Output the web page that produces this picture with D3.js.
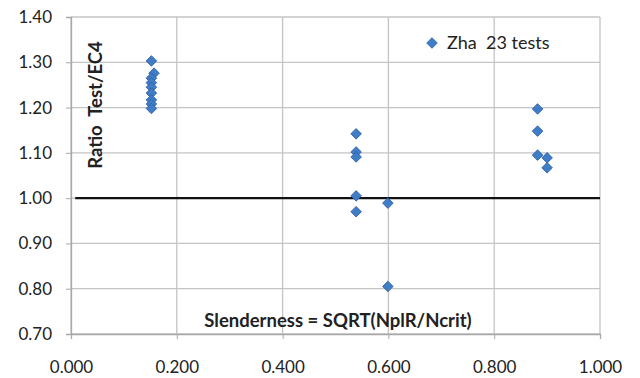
<!DOCTYPE html>
<html>
<head>
<meta charset="utf-8">
<script src="https://cdn.jsdelivr.net/npm/d3@7"></script>
<style>
  body { margin: 0; background: #fff; }
  text { font-family: Lato, "Open Sans", sans-serif; fill: #222; white-space: pre; }
</style>
</head>
<body>
<svg id="chart" width="640" height="378"></svg>
<script>
// --- datos ---
const slenderness = [0.152, 0.157, 0.152, 0.152, 0.152, 0.152, 0.152, 0.152, 0.152,
  0.539, 0.539, 0.539, 0.539, 0.539, 0.599, 0.599,
  0.882, 0.882, 0.882, 0.900, 0.900];
const ratios = [1.303, 1.276, 1.265, 1.255, 1.245, 1.232, 1.217, 1.208, 1.198,
  1.142, 1.102, 1.091, 1.005, 0.970, 0.989, 0.805,
  1.197, 1.148, 1.095, 1.089, 1.067];
const xTicks = [0, 0.2, 0.4, 0.6, 0.8, 1.0];
const yTicks = [0.7, 0.8, 0.9, 1.0, 1.1, 1.2, 1.3, 1.4];
const seriesName = 'Zha  23 tests';
const refLine = 1.0;

const svg = d3.select('#chart');
const x = d3.scaleLinear().domain([0, 1]).range([71, 600]);
const y = d3.scaleLinear().domain([0.7, 1.4]).range([334, 17]);

// --- rejilla ---
svg.append('g').selectAll('line.h')
  .data(yTicks).enter().append('line')
  .attr('x1', x(0)).attr('x2', x(1))
  .attr('y1', d => y(d)).attr('y2', d => y(d))
  .attr('stroke', '#c4c4c4').attr('stroke-width', 1.3);
svg.append('g').selectAll('line.v')
  .data(xTicks).enter().append('line')
  .attr('x1', d => x(d)).attr('x2', d => x(d))
  .attr('y1', y(1.4)).attr('y2', y(0.7))
  .attr('stroke', '#c4c4c4').attr('stroke-width', 1.3);

// --- ejes ---
const xAxis = svg.append('g')
  .attr('transform', `translate(0,${y(0.7)})`)
  .call(d3.axisBottom(x).tickValues(xTicks).tickFormat(d3.format('.3f')).tickSize(5).tickPadding(22));
const yAxis = svg.append('g')
  .attr('transform', `translate(${x(0)},0)`)
  .call(d3.axisLeft(y).tickValues(yTicks).tickFormat(d3.format('.2f')).tickSize(5).tickPadding(14));
[xAxis, yAxis].forEach(a => {
  a.select('.domain').attr('stroke', '#a8a8a8').attr('stroke-width', 1.3);
  a.selectAll('.tick line').attr('stroke', '#a8a8a8');
  a.selectAll('.tick text').attr('font-size', 17).attr('fill', '#222')
    .style('font-family', 'Lato, "Open Sans", sans-serif');
});

// --- línea de referencia ---
svg.append('line')
  .attr('x1', x(0.008)).attr('x2', x(1))
  .attr('y1', y(refLine)).attr('y2', y(refLine))
  .attr('stroke', '#111').attr('stroke-width', 2.4);

// --- puntos (rombos = cuadrados girados 45°) ---
const diamond = d3.symbol().type(d3.symbolSquare).size(56);
svg.append('g').selectAll('path')
  .data(slenderness.map((s, i) => [s, ratios[i]]))
  .enter().append('path')
  .attr('d', diamond)
  .attr('transform', d => `translate(${x(d[0])},${y(d[1])}) rotate(45)`)
  .attr('fill', '#3f7dc8').attr('stroke', '#2d5f9e').attr('stroke-width', 0.8);

// --- títulos ---
svg.append('text')
  .attr('transform', `translate(102,105) rotate(-90)`)
  .attr('text-anchor', 'middle')
  .attr('font-size', 18.5).attr('font-weight', 'bold')
  .text('Ratio  Test/EC4');
svg.append('text')
  .attr('x', 338).attr('y', 327)
  .attr('text-anchor', 'middle')
  .attr('font-size', 18.5).attr('font-weight', 'bold')
  .text('Slenderness = SQRT(NplR/Ncrit)');

// --- leyenda ---
svg.append('path')
  .attr('d', diamond)
  .attr('transform', 'translate(432,43) rotate(45)')
  .attr('fill', '#3f7dc8').attr('stroke', '#2d5f9e').attr('stroke-width', 0.8);
svg.append('text')
  .attr('x', 447).attr('y', 49)
  .attr('font-size', 18)
  .text(seriesName);
</script>
</body>
</html>
